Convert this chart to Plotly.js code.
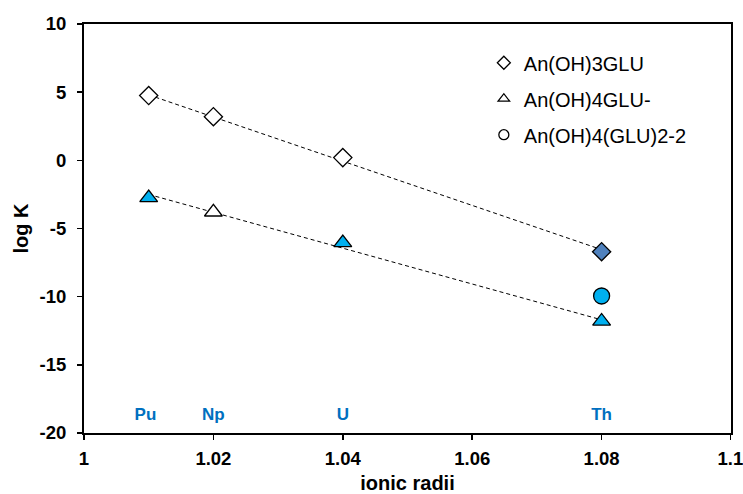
<!DOCTYPE html>
<html>
<head>
<meta charset="utf-8">
<script src="https://cdn.plot.ly/plotly-3.0.1.min.js"></script>
<style>html,body{margin:0;padding:0;background:#fff;}#chart{width:743px;height:494px;}</style>
</head>
<body>
<div id="chart"></div>
<script>
// Data
const diamondX = [1.01, 1.02, 1.04, 1.08];
const diamondY = [4.75, 3.2, 0.2, -6.7];
const diamondFill = ['#ffffff', '#ffffff', '#ffffff', '#4F81BD'];

const triangleX = [1.02, 1.01, 1.04, 1.08];
const triangleY = [-3.8, -2.75, -6.05, -11.8];
const triangleFill = ['#ffffff', '#00B0F0', '#00B0F0', '#00B0F0'];

const circleX = [1.08];
const circleY = [-9.95];
const circleFill = ['#00B0F0'];

const trendX = [1.01, 1.08];
const trendDiamondY = [4.8, -6.55];
const trendTriangleY = [-2.5, -11.7];

const elementX = [1.0095, 1.02, 1.04, 1.08];
const elementY = [-18.75, -18.75, -18.75, -18.75];
const elementLabels = ['Pu', 'Np', 'U', 'Th'];

const xTickVals = [1, 1.02, 1.04, 1.06, 1.08, 1.0999];
const xTickText = ['1', '1.02', '1.04', '1.06', '1.08', '1.1'];
const yTickVals = [-20, -15, -10, -5, 0, 5, 10];
const yTickText = ['-20', '-15', '-10', '-5', '0', '5', '10'];

const legendNames = ['An(OH)3GLU', 'An(OH)4GLU-', 'An(OH)4(GLU)2-2'];
const legendSymbols = ['diamond', 'triangle-up', 'circle'];

const FONT = 'Liberation Sans, Arial, sans-serif';

const traces = [
  {x: trendX, y: trendDiamondY, mode: 'lines', line: {color: '#000', width: 1, dash: '4px,3px'}, showlegend: false, hoverinfo: 'skip'},
  {x: trendX, y: trendTriangleY, mode: 'lines', line: {color: '#000', width: 1, dash: '4px,3px'}, showlegend: false, hoverinfo: 'skip'},
  {x: diamondX, y: diamondY, mode: 'markers', showlegend: false,
   marker: {symbol: 'diamond', size: 14, color: diamondFill, line: {color: '#000', width: 1.3}}},
  {x: triangleX, y: triangleY, mode: 'markers', showlegend: false,
   marker: {symbol: 'triangle-up', size: 15.5, color: triangleFill, line: {color: '#000', width: 1.3}}},
  {x: circleX, y: circleY, mode: 'markers', showlegend: false,
   marker: {symbol: 'circle', size: 16, color: circleFill, line: {color: '#000', width: 1.3}}},
  {x: elementX, y: elementY, mode: 'text', text: elementLabels, showlegend: false, hoverinfo: 'skip',
   textfont: {family: FONT, size: 17, color: '#0070C0', weight: 'bold'}}
];
legendNames.forEach((n, i) => {
  traces.push({x: [null], y: [null], mode: 'markers', name: n, legendgroup: 'g' + i,
    marker: {symbol: legendSymbols[i], size: 10, color: '#ffffff', line: {color: '#000', width: 1.3}}});
});

const axisCommon = {
  showline: true, linecolor: '#000', linewidth: 2, mirror: true,
  ticks: 'outside', ticklen: 5, tickwidth: 1.5, tickcolor: '#000',
  showgrid: false, zeroline: false, ticklabeloverflow: 'allow',
  tickfont: {family: FONT, size: 18.5, color: '#000', weight: 'bold'}
};

const layout = {
  width: 743, height: 494,
  margin: {l: 84, r: 12, t: 24, b: 61},
  paper_bgcolor: '#fff', plot_bgcolor: '#fff',
  showlegend: true,
  legend: {x: 0.618, y: 0.953, xanchor: 'left', yanchor: 'top', bgcolor: 'rgba(0,0,0,0)',
    tracegroupgap: 7, itemwidth: 30,
    font: {family: FONT, size: 20, color: '#000'}},
  xaxis: Object.assign({}, axisCommon, {
    range: [1, 1.1], tickmode: 'array', tickvals: xTickVals, ticktext: xTickText, ticklabelstandoff: 3,
    title: {text: 'ionic radii', standoff: 8, font: {family: FONT, size: 20, color: '#000', weight: 'bold'}}
  }),
  yaxis: Object.assign({}, axisCommon, {
    range: [-20, 10], tickmode: 'array', tickvals: yTickVals, ticktext: yTickText, ticklabelstandoff: 7,
    title: {text: 'log K', standoff: 6, font: {family: FONT, size: 20, color: '#000', weight: 'bold'}}
  })
};

Plotly.newPlot('chart', traces, layout, {displayModeBar: false, staticPlot: true});
</script>
</body>
</html>
